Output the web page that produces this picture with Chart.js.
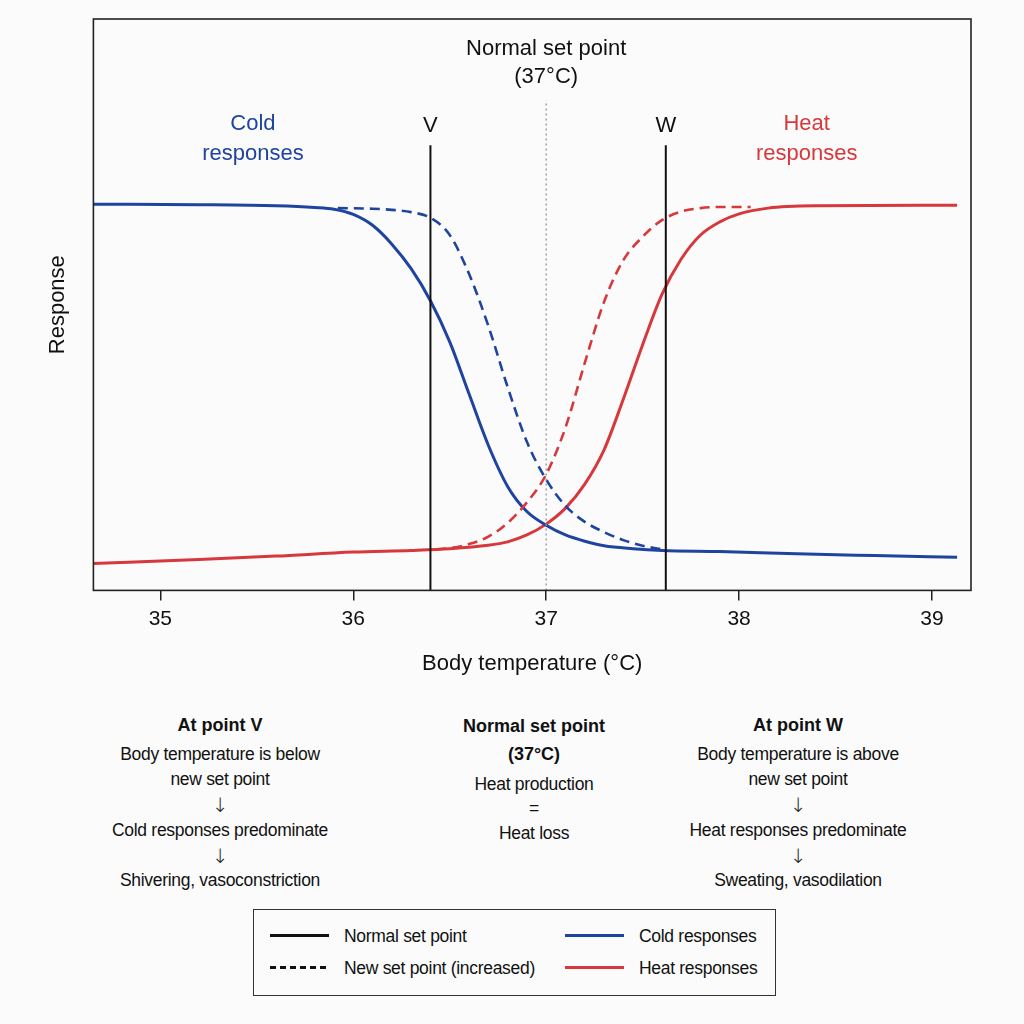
<!DOCTYPE html>
<html>
<head>
<meta charset="utf-8">
<script src="https://cdn.jsdelivr.net/npm/chart.js@4.4.1/dist/chart.umd.min.js"></script>
<style>
	html, body { margin: 0; padding: 0; background: #fbfbfb; }
	body { width: 1024px; height: 1024px; position: relative; overflow: hidden;
		font-family: "Liberation Sans", Arial, sans-serif; color: #111; }
	#chart { position: absolute; left: 0; top: 0; }
	.note { position: absolute; width: 400px; text-align: center; font-size: 17.5px; letter-spacing: -0.3px; white-space: nowrap; }
	.note.bold { font-weight: bold; font-size: 18px; letter-spacing: 0; }
	.note.arrow { font-family: "DejaVu Sans", sans-serif; font-size: 20px; font-weight: 300; color: #222; }
	#legend { position: absolute; left: 253px; top: 909px; width: 521px; height: 85px; border: 1.5px solid #333; }
	.swatch { position: absolute; height: 2.5px; }
	.ltext { position: absolute; font-size: 17.5px; letter-spacing: -0.3px; line-height: 20px; white-space: nowrap; }
</style>
</head>
<body>
<canvas id="chart" width="1024" height="700"></canvas>
<div id="notes"></div>
<div id="legend"></div>
<script>
// ---- data ----
const tempTicks = [35, 36, 37, 38, 39];

const coldTemps  = [34.65, 35.2, 35.6, 35.8, 35.9, 36.0, 36.1, 36.2, 36.3, 36.4, 36.5, 36.6, 36.7, 36.8, 36.9, 37.0, 37.1, 37.2, 37.3, 37.45, 37.6, 37.9, 38.3, 38.7, 39.13];
const coldNormal = [67.6, 67.5, 67.3, 67.0, 66.7, 65.8, 63.9, 60.6, 56.3, 50.7, 43.5, 34.4, 25.4, 18.2, 13.8, 11.4, 9.7, 8.6, 7.8, 7.3, 7.0, 6.8, 6.4, 6.1, 5.8];

const coldShiftTemps = [35.92, 36.1, 36.2, 36.3, 36.4, 36.5, 36.6, 36.7, 36.8, 36.9, 37.0, 37.1, 37.2, 37.3, 37.4, 37.5, 37.6];
const coldShifted    = [66.9, 66.8, 66.6, 66.2, 65.2, 62.2, 55.4, 46.3, 35.6, 26.0, 19.4, 14.8, 12.0, 10.2, 8.8, 7.8, 7.2];

const heatTemps  = [34.65, 35.2, 35.6, 36.0, 36.3, 36.5, 36.7, 36.8, 36.9, 37.0, 37.1, 37.2, 37.3, 37.4, 37.5, 37.6, 37.7, 37.8, 37.9, 38.0, 38.15, 38.4, 39.13];
const heatNormal = [4.7, 5.4, 6.0, 6.7, 7.0, 7.3, 7.9, 8.5, 9.7, 11.6, 14.4, 18.6, 24.6, 33.5, 43.0, 51.8, 58.0, 62.2, 64.5, 65.9, 66.9, 67.3, 67.4];

const heatShiftTemps = [36.43, 36.5, 36.6, 36.7, 36.8, 36.9, 37.0, 37.1, 37.2, 37.3, 37.4, 37.5, 37.6, 37.7, 37.8, 37.9, 38.06];
const heatShifted    = [7.2, 7.4, 8.1, 9.4, 11.8, 15.4, 20.3, 28.5, 39.8, 50.5, 57.8, 61.9, 64.8, 66.3, 66.9, 67.1, 67.1];

const pointV = 36.4;
const pointW = 37.62;
const markerTop = 77.9;
const setPoint = 37;
const setPointTop = 85.8;

// ---- styling ----
const FONT = '"Liberation Sans", Arial, sans-serif';
const BLUE = '#1f44a0';
const RED = '#d7383b';
const INK = '#111';

let toPoints = (xs, ys) => xs.map((t, i) => ({ x: t, y: ys[i] }));
let vline = (t, top) => [{ x: t, y: 0 }, { x: t, y: top }];

let curve = (label, xs, ys, color, dash) => ({
	label: label,
	data: toPoints(xs, ys),
	borderColor: color,
	borderWidth: dash ? 2.6 : 3,
	borderDash: dash || [],
	cubicInterpolationMode: 'monotone',
	pointRadius: 0,
	fill: false
});

// text inside the plot, placed in data units
const plotTexts = [
	{ text: 'Normal set point', t: 37, v: 94.8, color: INK },
	{ text: '(37°C)', t: 37, v: 89.9, color: INK },
	{ text: 'V', t: pointV, v: 81.3, color: INK },
	{ text: 'W', t: pointW, v: 81.3, color: INK },
	{ text: 'Cold', t: 35.48, v: 81.6, color: BLUE },
	{ text: 'responses', t: 35.48, v: 76.4, color: BLUE },
	{ text: 'Heat', t: 38.35, v: 81.6, color: RED },
	{ text: 'responses', t: 38.35, v: 76.4, color: RED }
];

const plotTextPlugin = {
	id: 'plotText',
	afterDatasetsDraw(chart) {
		const { ctx, scales: { x, y } } = chart;
		ctx.save();
		ctx.font = '22px ' + FONT;
		ctx.textAlign = 'center';
		ctx.textBaseline = 'middle';
		for (let p of plotTexts) {
			ctx.fillStyle = p.color;
			ctx.fillText(p.text, x.getPixelForValue(p.t), y.getPixelForValue(p.v));
		}
		ctx.restore();
	}
};

const framePlugin = {
	id: 'frame',
	afterDraw(chart) {
		const { ctx, chartArea: a } = chart;
		ctx.save();
		ctx.strokeStyle = '#222';
		ctx.lineWidth = 1.6;
		ctx.strokeRect(a.left, a.top, a.right - a.left, a.bottom - a.top);
		ctx.restore();
	}
};

new Chart(document.getElementById('chart'), {
	type: 'line',
	data: {
		datasets: [
			{ label: 'Set point', data: vline(setPoint, setPointTop), borderColor: '#9a9a9a', borderWidth: 1.4, borderDash: [2, 3], pointRadius: 0 },
			{ label: 'V', data: vline(pointV, markerTop), borderColor: INK, borderWidth: 2, pointRadius: 0 },
			{ label: 'W', data: vline(pointW, markerTop), borderColor: INK, borderWidth: 2, pointRadius: 0 },
			curve('Cold responses (new set point)', coldShiftTemps, coldShifted, BLUE, [10, 6]),
			curve('Heat responses (new set point)', heatShiftTemps, heatShifted, RED, [10, 6]),
			curve('Cold responses', coldTemps, coldNormal, BLUE),
			curve('Heat responses', heatTemps, heatNormal, RED)
		]
	},
	options: {
		responsive: false,
		animation: false,
		events: [],
		layout: { padding: { left: 41, right: 53, top: 19, bottom: 19 } },
		plugins: { legend: { display: false }, tooltip: { enabled: false } },
		scales: {
			x: {
				type: 'linear',
				min: 34.653,
				max: 39.202,
				afterBuildTicks: s => { s.ticks = tempTicks.map(v => ({ value: v })); },
				grid: { display: true, drawOnChartArea: false, drawTicks: true, tickLength: 10, color: '#222', lineWidth: 1.5 },
				border: { display: false },
				ticks: { font: { size: 21, family: FONT }, color: INK, padding: 6 },
				title: { display: true, text: 'Body temperature (°C)', font: { size: 22, family: FONT }, color: INK, padding: { top: 13, bottom: 4 } }
			},
			y: {
				min: 0,
				max: 100,
				grid: { display: false, drawTicks: false },
				border: { display: false },
				ticks: { display: false },
				title: { display: true, text: 'Response', font: { size: 22, family: FONT }, color: INK, padding: { top: 4, bottom: 22 } }
			}
		}
	},
	plugins: [framePlugin, plotTextPlugin]
});

// ---- notes under the chart ----
const notes = [
	{ cx: 220, lines: [['At point V', 725, 'bold'], ['Body temperature is below', 754], ['new set point', 779], ['↓', 805, 'arrow'], ['Cold responses predominate', 830], ['↓', 856, 'arrow'], ['Shivering, vasoconstriction', 880]] },
	{ cx: 534, lines: [['Normal set point', 726, 'bold'], ['(37°C)', 754, 'bold'], ['Heat production', 784], ['=', 808], ['Heat loss', 833]] },
	{ cx: 798, lines: [['At point W', 725, 'bold'], ['Body temperature is above', 754], ['new set point', 779], ['↓', 805, 'arrow'], ['Heat responses predominate', 830], ['↓', 856, 'arrow'], ['Sweating, vasodilation', 880]] }
];

let box = document.getElementById('notes');
for (let col of notes) {
	for (let [text, cy, kind] of col.lines) {
		let d = document.createElement('div');
		d.className = kind ? 'note ' + kind : 'note';
		d.textContent = text;
		d.style.left = (col.cx - 200) + 'px';
		d.style.top = (cy - 12) + 'px';
		d.style.lineHeight = '24px';
		box.appendChild(d);
	}
}

// ---- legend ----
const legendItems = [
	{ text: 'Normal set point', color: INK, dashed: false, x: 16, row: 0 },
	{ text: 'New set point (increased)', color: INK, dashed: true, x: 16, row: 1 },
	{ text: 'Cold responses', color: BLUE, dashed: false, x: 311, row: 0 },
	{ text: 'Heat responses', color: RED, dashed: false, x: 311, row: 1 }
];

let legend = document.getElementById('legend');
for (let item of legendItems) {
	let cy = item.row ? 57.5 : 25.5;
	let s = document.createElement('div');
	s.className = 'swatch';
	s.style.left = item.x + 'px';
	s.style.width = '59px';
	s.style.top = (cy - 1.25) + 'px';
	s.style.background = item.dashed
		? 'repeating-linear-gradient(to right, ' + item.color + ' 0 6.5px, transparent 6.5px 10px)'
		: item.color;
	legend.appendChild(s);
	let t = document.createElement('div');
	t.className = 'ltext';
	t.textContent = item.text;
	t.style.left = (item.x + 74) + 'px';
	t.style.top = (cy - 10) + 'px';
	legend.appendChild(t);
}
</script>
</body>
</html>
